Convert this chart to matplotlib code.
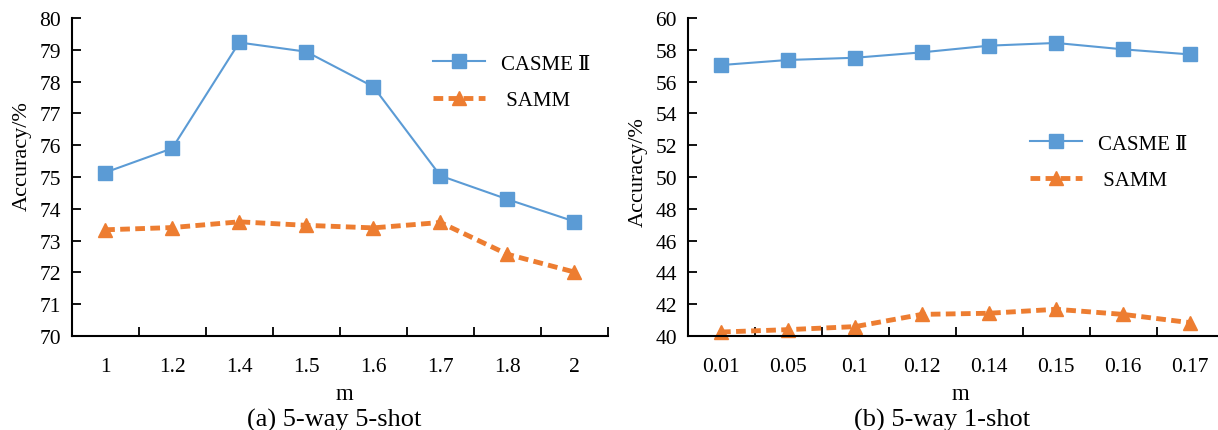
import matplotlib
matplotlib.use("Agg")
import matplotlib.pyplot as plt
import numpy as np

# panel (a): 5-way 5-shot
m_a = ["1", "1.2", "1.4", "1.5", "1.6", "1.7", "1.8", "2"]
casme_a = [75.14, 75.90, 79.23, 78.94, 77.84, 75.04, 74.30, 73.60]
samm_a = [73.34, 73.41, 73.59, 73.48, 73.40, 73.57, 72.57, 72.01]

# panel (b): 5-way 1-shot
m_b = ["0.01", "0.05", "0.1", "0.12", "0.14", "0.15", "0.16", "0.17"]
casme_b = [57.04, 57.36, 57.50, 57.84, 58.26, 58.43, 58.03, 57.71]
samm_b = [40.25, 40.40, 40.59, 41.36, 41.43, 41.68, 41.36, 40.84]

BLUE = "#5B9BD5"
ORANGE = "#ED7D31"
FONT = ["Liberation Serif", "DejaVu Serif"]

plt.rcParams["font.family"] = FONT
plt.rcParams["font.size"] = 15

W, H = 1218, 431
fig = plt.figure(figsize=(W / 100, H / 100), dpi=100)


def px_axes(x0, x1, y_top, y_bot):
    return fig.add_axes([x0 / W, 1 - y_bot / H, (x1 - x0) / W, (y_bot - y_top) / H])


def draw_panel(ax, cats, casme, samm, ylim, ystep, ylab_y, legend_pos):
    x = np.arange(len(cats))
    ax.plot(x, casme, color=BLUE, lw=1.5, marker="s", ms=9.5, label="CASME \u2161")
    ax.plot(x, samm, color=ORANGE, lw=3.5, ls=(0, (2, 1.1)), marker="^", ms=10,
            label=" SAMM")
    ax.set_xlim(-0.5, len(cats) - 0.5)
    ax.set_ylim(*ylim)
    ax.set_yticks(np.arange(ylim[0], ylim[1] + 0.1, ystep))
    # tick marks between categories, labels at the centres
    ax.set_xticks(np.arange(-0.5, len(cats), 1.0))
    ax.set_xticklabels([])
    ax.set_xticks(x, minor=True)
    ax.set_xticklabels(cats, minor=True)
    ax.tick_params(axis="x", which="major", direction="in", length=6.5, width=1.3)
    ax.tick_params(axis="x", which="minor", length=0, pad=15, labelsize=15.5)
    ax.tick_params(axis="y", direction="in", length=6.5, width=1.3, pad=7.5, labelsize=15.5)
    for s in ["top", "right"]:
        ax.spines[s].set_visible(False)
    for s in ["left", "bottom"]:
        ax.spines[s].set_linewidth(1.5)
    width_px = ax.get_position().width * W
    ax.set_ylabel("Accuracy/%", fontsize=16)
    ax.yaxis.set_label_coords(-40 / width_px, ylab_y)
    ax.set_xlabel("m", fontsize=16.5, labelpad=5, x=0.5 + 5 / width_px)
    ax.legend(loc="center left", bbox_to_anchor=legend_pos, frameon=False,
              handlelength=2.5, handletextpad=0.75, labelspacing=0.8, fontsize=15,
              borderaxespad=0, borderpad=0)
    for line in ax.lines:
        line.set_clip_on(False)


ax_a = px_axes(71.6, 608, 19, 337)
draw_panel(ax_a, m_a, casme_a, samm_a, (70, 80), 1, 0.57,
           ((433 - 71.6) / 536.4, 1 - (83 - 19) / 318))

ax_b = px_axes(687.5, 1223.5, 19, 337)
draw_panel(ax_b, m_b, casme_b, samm_b, (40, 60), 2, 0.52,
           ((1030 - 687.5) / 536, 1 - (163 - 19) / 318))

fig.text(334 / W, 1 - 427 / H, "(a) 5-way 5-shot", ha="center", va="baseline", fontsize=19)
fig.text(942 / W, 1 - 427 / H, "(b) 5-way 1-shot", ha="center", va="baseline", fontsize=19)

fig.savefig("out.png", dpi=100)
